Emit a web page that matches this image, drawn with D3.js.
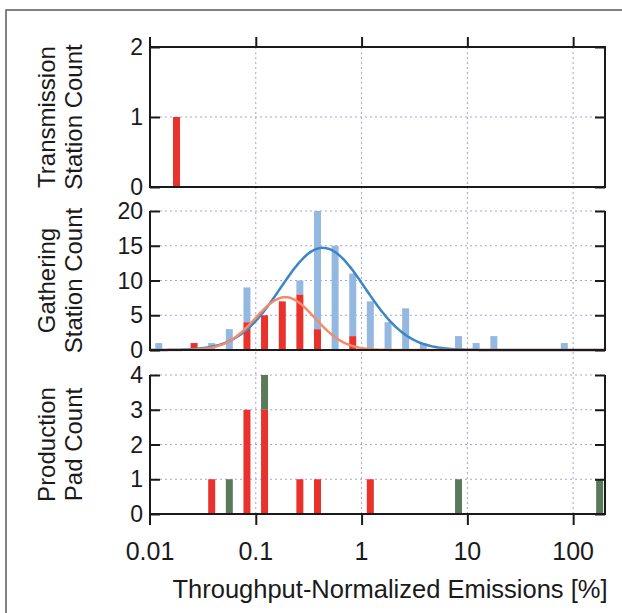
<!DOCTYPE html>
<html>
<head>
<meta charset="utf-8">
<script src="https://cdn.jsdelivr.net/npm/d3@7"></script>
<style>
  body { margin: 0; background: #fff; }
  svg { display: block; font-family: "Liberation Sans", Arial, sans-serif; }
</style>
</head>
<body>
<svg id="chart"></svg>
<script>
// bin centres (% emissions) and counts
const transBins = [0.0178];
const transOther = [1];

const gathBins = [0.0121, 0.0261, 0.0383, 0.0562, 0.0825, 0.121, 0.178, 0.261, 0.383,
  0.562, 0.825, 1.21, 1.78, 2.61, 3.83, 8.25, 12.1, 17.8, 82.5];
const gathRed = [0, 1, 0, 0, 4, 5, 7, 8, 3, 0, 2, 0, 0, 0, 0, 0, 0, 0, 0];
const gathBlue = [1, 0, 1, 3, 5, 0, 0, 2, 17, 15, 9, 7, 4, 6, 1, 2, 1, 2, 1];

const padBins = [0.0383, 0.0562, 0.0825, 0.121, 0.261, 0.383, 1.21, 8.25, 178];
const padRed = [1, 0, 3, 3, 1, 1, 1, 0, 0];
const padGreen = [0, 1, 0, 1, 0, 0, 0, 1, 1];

// lognormal fits on the gathering panel: [centre %, sigma (decades), peak count]
const blueFit = [0.43, 0.40, 14.7];
const redFit = [0.19, 0.28, 7.6];

const xTicks = [0.01, 0.1, 1, 10, 100];
const xTickLabels = ['0.01', '0.1', '1', '10', '100'];

const width = 622, height = 613;
const colors = { red: '#e8322b', blue: '#94b8df', green: '#5b7a5c' };

const svg = d3.select('#chart').attr('width', width).attr('height', height);

svg.append('rect')
  .attr('x', 6).attr('y', 10).attr('width', 700).attr('height', 700)
  .attr('fill', 'none').attr('stroke', '#5a5a5a').attr('stroke-width', 1.5);

const x = d3.scaleLog().domain([0.01, 200]).range([150, 605]);

const panels = [
  { top: 47, bottom: 187, max: 2, ticks: [0, 1, 2], label: ['Transmission', 'Station Count'],
    bins: transBins, keys: ['red'], series: { red: transOther }, topLine: true },
  { top: 211, bottom: 350, max: 20, ticks: [0, 5, 10, 15, 20], label: ['Gathering', 'Station Count'],
    bins: gathBins, keys: ['red', 'blue'], series: { red: gathRed, blue: gathBlue } },
  { top: 375, bottom: 514, max: 4, ticks: [0, 1, 2, 3, 4], label: ['Production', 'Pad Count'],
    bins: padBins, keys: ['red', 'green'], series: { red: padRed, green: padGreen } }
];

const gridColor = '#aaa1dc';

// vertical dotted grid running through all panels
svg.append('g')
  .selectAll('line')
  .data(xTicks.slice(1))
  .enter()
  .append('line')
  .attr('x1', d => x(d)).attr('x2', d => x(d))
  .attr('y1', panels[0].top).attr('y2', panels[2].bottom)
  .attr('stroke', gridColor).attr('stroke-width', 1).attr('stroke-dasharray', '2,3');

const barHalf = 0.033; // decades

panels.forEach((p, i) => {
  const y = d3.scaleLinear().domain([0, p.max]).range([p.bottom, p.top]);
  const g = svg.append('g');

  g.selectAll('line.hgrid')
    .data(p.ticks.slice(1))
    .enter()
    .append('line')
    .attr('class', 'hgrid')
    .attr('x1', x.range()[0]).attr('x2', x.range()[1])
    .attr('y1', d => y(d)).attr('y2', d => y(d))
    .attr('stroke', gridColor).attr('stroke-width', 1).attr('stroke-dasharray', '2,3');

  const rows = p.bins.map((b, j) => {
    const r = { bin: b };
    p.keys.forEach(k => { r[k] = p.series[k][j]; });
    return r;
  });
  const stacked = d3.stack().keys(p.keys)(rows);

  g.selectAll('g.layer')
    .data(stacked)
    .enter()
    .append('g')
    .attr('fill', d => colors[d.key])
    .selectAll('rect')
    .data(d => d.filter(s => s[1] > s[0]))
    .enter()
    .append('rect')
    .attr('x', d => x(d.data.bin * Math.pow(10, -barHalf)))
    .attr('width', d => x(d.data.bin * Math.pow(10, barHalf)) - x(d.data.bin * Math.pow(10, -barHalf)))
    .attr('y', d => y(d[1]))
    .attr('height', d => y(d[0]) - y(d[1]));

  if (i === 1) {
    const fitLine = (fit) => {
      const pts = d3.range(0, 401).map(t => {
        const lx = -2 + t * (Math.log10(200) + 2) / 400;
        const z = (lx - Math.log10(fit[0])) / fit[1];
        return [Math.pow(10, lx), fit[2] * Math.exp(-0.5 * z * z)];
      });
      return d3.line().x(d => x(d[0])).y(d => y(d[1]))(pts);
    };
    g.append('path').attr('d', fitLine(blueFit))
      .attr('fill', 'none').attr('stroke', '#3b86c6').attr('stroke-width', 2.5);
    g.append('path').attr('d', fitLine(redFit))
      .attr('fill', 'none').attr('stroke', '#f28c6c').attr('stroke-width', 2.5);
  }

  // frame
  const frame = g.append('g').attr('stroke', '#1a1a1a').attr('stroke-width', 2).attr('fill', 'none');
  frame.append('line').attr('x1', 150).attr('x2', 150)
    .attr('y1', i === 0 ? p.top - 10 : p.top).attr('y2', i === 2 ? p.bottom + 11 : p.bottom);
  frame.append('line').attr('x1', 605).attr('x2', 605).attr('y1', p.top).attr('y2', p.bottom);
  frame.append('line').attr('x1', 149).attr('x2', 606).attr('y1', p.bottom).attr('y2', p.bottom);
  if (p.topLine) frame.append('line').attr('x1', 149).attr('x2', 606).attr('y1', p.top).attr('y2', p.top);

  // inward y ticks on both sides
  g.append('g')
    .attr('transform', 'translate(150,0)')
    .call(d3.axisRight(y).tickValues(p.ticks).tickSize(10).tickFormat(''))
    .call(a => a.select('.domain').remove())
    .call(a => a.selectAll('line').attr('stroke', '#1a1a1a').attr('stroke-width', 2));
  g.append('g')
    .attr('transform', 'translate(605,0)')
    .call(d3.axisLeft(y).tickValues(p.ticks).tickSize(10).tickFormat(''))
    .call(a => a.select('.domain').remove())
    .call(a => a.selectAll('line').attr('stroke', '#1a1a1a').attr('stroke-width', 2));

  g.selectAll('text.ylab')
    .data(p.ticks)
    .enter()
    .append('text')
    .attr('x', 143).attr('y', d => y(d) + 8)
    .attr('text-anchor', 'end')
    .style('font-size', '23px').attr('fill', '#1a1a1a')
    .text(d => d);

  const cy = (p.top + p.bottom) / 2;
  p.label.forEach((t, k) => {
    g.append('text')
      .attr('transform', `translate(${55 + k * 27},${cy}) rotate(-90)`)
      .attr('text-anchor', 'middle')
      .style('font-size', '24px').attr('fill', '#1a1a1a')
      .text(t);
  });
});

// outward x ticks on top of first panel and bottom of last
svg.append('g')
  .attr('transform', `translate(0,${panels[0].top})`)
  .call(d3.axisTop(x).tickValues(xTicks.slice(1)).tickSize(10).tickFormat(''))
  .call(a => a.select('.domain').remove())
  .call(a => a.selectAll('line').attr('stroke', '#1a1a1a').attr('stroke-width', 2));

svg.append('g')
  .attr('transform', `translate(0,${panels[2].bottom})`)
  .call(d3.axisBottom(x).tickValues(xTicks.slice(1)).tickSize(11).tickFormat(''))
  .call(a => a.select('.domain').remove())
  .call(a => a.selectAll('line').attr('stroke', '#1a1a1a').attr('stroke-width', 2));

svg.append('g')
  .selectAll('text')
  .data(xTicks)
  .enter()
  .append('text')
  .attr('x', d => x(d)).attr('y', 560)
  .attr('text-anchor', 'middle')
  .style('font-size', '25px').attr('fill', '#1a1a1a')
  .text((d, i) => xTickLabels[i]);

svg.append('text')
  .attr('x', 390).attr('y', 598)
  .attr('text-anchor', 'middle')
  .style('font-size', '25.5px').attr('fill', '#1a1a1a')
  .text('Throughput-Normalized Emissions [%]');
</script>
</body>
</html>
